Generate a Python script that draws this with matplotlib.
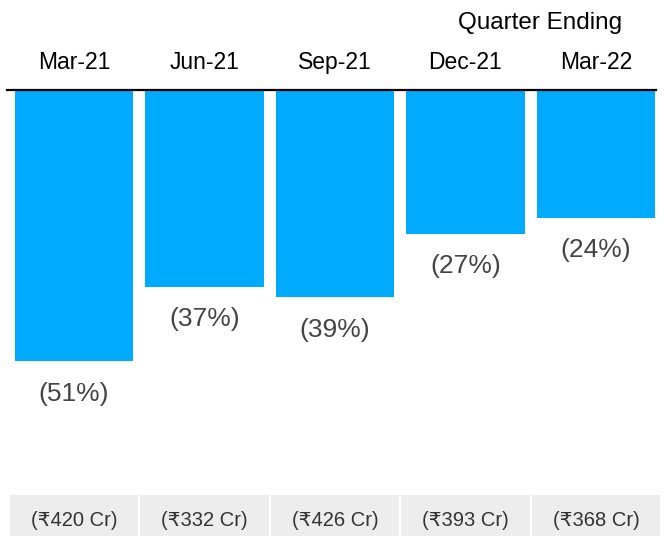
import matplotlib
matplotlib.use("Agg")
import matplotlib.pyplot as plt

plt.rcParams['font.family'] = ['Liberation Sans', 'DejaVu Sans']

categories = ["Mar-21", "Jun-21", "Sep-21", "Dec-21", "Mar-22"]
values = [-51, -37, -39, -27, -24]
pct_labels = ["(51%)", "(37%)", "(39%)", "(27%)", "(24%)"]
amount_labels = ["(₹420 Cr)", "(₹332 Cr)", "(₹426 Cr)", "(₹393 Cr)", "(₹368 Cr)"]

W, H = 668, 536
fig = plt.figure(figsize=(W / 100, H / 100), dpi=100)

# main bar axes
ax = fig.add_axes([8.75 / W, 1 - 480 / H, 652.5 / W, 390 / H])
x = list(range(len(categories)))
ax.bar(x, values, width=0.905, color="#00aaff", zorder=2)
ax.set_xlim(-0.5, 4.5)
ax.set_ylim(-390 / 5.32, 0)
for s in ["left", "right", "bottom", "top"]:
    ax.spines[s].set_visible(False)
ax.plot([-0.51, 4.46], [0, 0], color="black", linewidth=1.6, clip_on=False, zorder=3)
ax.set_xticks([])
ax.set_yticks([])

for i, (c, v, p) in enumerate(zip(categories, values, pct_labels)):
    ax.annotate(c, xy=(i, 0), xytext=(0, 20), textcoords="offset points",
                ha="center", va="center", fontsize=16.5, color="black")
    ax.annotate(p, xy=(i, v), xytext=(0, -23.5), textcoords="offset points",
                ha="center", va="center", fontsize=19, color="#444444")

fig.text(540 / W, 1 - 23.5 / H, "Quarter Ending", ha="center", va="center",
         fontsize=17.5, color="black")

# bottom amount boxes
ax2 = fig.add_axes([8.75 / W, 0, 652.5 / W, 41 / H])
ax2.bar(x, [1] * len(x), width=0.985, color="#ededed", bottom=0)
ax2.set_xlim(-0.5, 4.5)
ax2.set_ylim(0, 1)
ax2.axis("off")
for i, a in enumerate(amount_labels):
    ax2.text(i, 0.38, a, ha="center", va="center", fontsize=14.5, color="#333333")

fig.savefig("out.png", dpi=100)
